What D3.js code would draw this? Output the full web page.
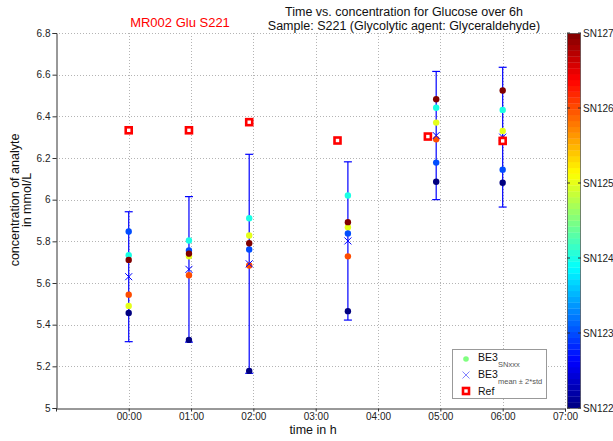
<!DOCTYPE html>
<html>
<head>
<meta charset="utf-8">
<script src="https://cdn.jsdelivr.net/npm/d3@7"></script>
<style>
  html, body { margin: 0; padding: 0; background: #fff; }
  svg { display: block; font-family: "Liberation Sans", Arial, sans-serif; }
</style>
</head>
<body>
<svg id="chart" width="613" height="441"></svg>
<script>
// ---------- data ----------
const sensors = ["SN122", "SN123", "SN124", "SN125", "SN126", "SN127"];
const sampleTimes = [0, 58, 116, 211, 296, 360];          // minutes
const refTimes    = [0, 58, 116, 201, 288, 360];          // minutes
const refValues   = [6.333, 6.333, 6.372, 6.284, 6.303, 6.282];
const valSN122 = [5.456, 5.327, 5.178, 5.465, 6.086, 6.081];
const valSN123 = [5.847, 5.756, 5.761, 5.838, 6.178, 6.144];
const valSN124 = [5.733, 5.804, 5.911, 6.020, 6.441, 6.431];
const valSN125 = [5.490, 5.728, 5.828, 5.868, 6.370, 6.330];
const valSN126 = [5.544, 5.637, 5.684, 5.728, 6.290, 6.290];
const valSN127 = [5.711, 5.741, 5.791, 5.892, 6.482, 6.524];
const sensorValues = [valSN122, valSN123, valSN124, valSN125, valSN126, valSN127];
const xTickValues = [0, 60, 120, 180, 240, 300, 360, 420];
const xTickLabels = ["00:00", "01:00", "02:00", "03:00", "04:00", "05:00", "06:00", "07:00"];
const yTickValues = [5, 5.2, 5.4, 5.6, 5.8, 6, 6.2, 6.4, 6.6, 6.8];
const yTickLabels = ["5", "5.2", "5.4", "5.6", "5.8", "6", "6.2", "6.4", "6.6", "6.8"];
const cbarTickValues = [122, 123, 124, 125, 126, 127];

// ---------- helpers ----------
function jet(t) {
  const c = v => Math.max(0, Math.min(1, v));
  const r = c(1.5 - Math.abs(4 * t - 3));
  const g = c(1.5 - Math.abs(4 * t - 2));
  const b = c(1.5 - Math.abs(4 * t - 1));
  return d3.rgb(r * 255, g * 255, b * 255).toString();
}

const svg = d3.select("#chart");
const L = 56, R = 565, T = 33, B = 408;
const x = d3.scaleLinear().domain([-70, 420]).range([L, R]);
const y = d3.scaleLinear().domain([5, 6.8]).range([B, T]);
const cScale = d3.scaleLinear().domain([122, 127]).range([0, 1]);

// ---------- grid ----------
const grid = svg.append("g");
grid.selectAll("line.gx").data(xTickValues).enter().append("line")
  .attr("x1", d => Math.round(x(d)) + 0.5).attr("x2", d => Math.round(x(d)) + 0.5).attr("y1", T).attr("y2", B)
  .attr("stroke", "#b4b4b4").attr("stroke-width", 1).attr("stroke-dasharray", "1,2");
grid.selectAll("line.gy").data(yTickValues.slice(1)).enter().append("line")
  .attr("x1", L).attr("x2", R).attr("y1", d => Math.round(y(d)) + 0.5).attr("y2", d => Math.round(y(d)) + 0.5)
  .attr("stroke", "#b4b4b4").attr("stroke-width", 1).attr("stroke-dasharray", "1,2");

// ---------- axes ----------
const xAxis = d3.axisBottom(x).tickValues(xTickValues).tickSize(3)
  .tickFormat((d, i) => xTickLabels[i]);
const gx = svg.append("g").attr("transform", `translate(0,${B + 0.5})`).call(xAxis);
const yAxis = d3.axisLeft(y).tickValues(yTickValues).tickSize(4)
  .tickFormat((d, i) => yTickLabels[i]);
const gy = svg.append("g").attr("transform", `translate(${L + 0.5},0)`).call(yAxis);
[gx, gy].forEach(g => {
  g.select(".domain").attr("stroke", "#333");
  g.selectAll(".tick line").attr("stroke", "#333");
  g.selectAll(".tick text").attr("fill", "#222").style("font-size", "10px")
    .style("font-family", "'Liberation Sans', Arial, sans-serif");
});
gx.selectAll(".tick text").attr("y", 11).attr("dy", 0);
gy.selectAll(".tick text").attr("x", -6);

// ---------- error bars (mean ± 2*std) ----------
const groups = sampleTimes.map((t, i) => {
  const vals = sensorValues.map(s => s[i]);
  const m = d3.mean(vals), sd = d3.deviation(vals);
  return { t, m, lo: m - 2 * sd, hi: m + 2 * sd };
});
const eb = svg.append("g").attr("stroke", "#0000ff").attr("stroke-width", 1.2);
groups.forEach(g => {
  const cx = x(g.t);
  eb.append("line").attr("x1", cx).attr("x2", cx).attr("y1", y(g.hi)).attr("y2", y(g.lo));
  eb.append("line").attr("x1", cx - 4).attr("x2", cx + 4).attr("y1", y(g.hi)).attr("y2", y(g.hi));
  eb.append("line").attr("x1", cx - 4).attr("x2", cx + 4).attr("y1", y(g.lo)).attr("y2", y(g.lo));
});

// ---------- sensor points ----------
const pts = svg.append("g");
sensors.forEach((s, si) => {
  const col = jet(cScale(122 + si));
  pts.selectAll(null).data(sensorValues[si]).enter().append("circle")
    .attr("cx", (d, i) => x(sampleTimes[i])).attr("cy", d => y(d))
    .attr("r", 3.2).attr("fill", col);
});

// ---------- mean markers ----------
const mk = svg.append("g").attr("stroke", "#0000ff").attr("stroke-width", 1);
groups.forEach(g => {
  const cx = x(g.t), cy = y(g.m), s = 3.5;
  mk.append("path").attr("d", `M${cx - s},${cy - s}L${cx + s},${cy + s}M${cx - s},${cy + s}L${cx + s},${cy - s}`);
});

// ---------- reference squares ----------
svg.append("g").selectAll("rect").data(refValues).enter().append("rect")
  .attr("x", (d, i) => x(refTimes[i]) - 3).attr("y", d => y(d) - 3)
  .attr("width", 6).attr("height", 6)
  .attr("fill", "#fff").attr("stroke", "#ff0000").attr("stroke-width", 2.6);

// ---------- colorbar ----------
const cb = svg.append("g");
const cbX = 567, cbW = 14;
const nLev = 64;
const cbY = d3.scaleLinear().domain([0, nLev]).range([B, T]);
cb.selectAll("rect").data(d3.range(nLev)).enter().append("rect")
  .attr("x", cbX).attr("width", cbW)
  .attr("y", d => cbY(d + 1)).attr("height", d => cbY(d) - cbY(d + 1) + 0.3)
  .attr("fill", d => jet((d + 0.5) / nLev));
cb.append("rect").attr("x", cbX + 0.5).attr("y", T + 0.5).attr("width", cbW - 1).attr("height", B - T)
  .attr("fill", "none").attr("stroke", "#666").attr("stroke-width", 0.8);
const cbTickY = d3.scaleLinear().domain([122, 127]).range([B, T]);
cbarTickValues.forEach(v => {
  const ty = cbTickY(v);
  cb.append("line").attr("x1", cbX).attr("x2", cbX + 3).attr("y1", ty).attr("y2", ty).attr("stroke", "#333");
  cb.append("line").attr("x1", cbX + cbW - 3).attr("x2", cbX + cbW).attr("y1", ty).attr("y2", ty).attr("stroke", "#333");
  cb.append("text").attr("x", 583).attr("y", ty).attr("dy", "0.35em")
    .attr("font-size", "10px").attr("fill", "#222").text("SN" + v);
});

// ---------- titles & labels ----------
svg.append("text").attr("x", 180).attr("y", 26.5).attr("text-anchor", "middle")
  .attr("font-size", "13px").attr("fill", "#ff0000").text("MR002 Glu S221");
svg.append("text").attr("x", 404).attr("y", 15.5).attr("text-anchor", "middle")
  .attr("font-size", "12.5px").attr("fill", "#111").text("Time vs. concentration for Glucose over 6h");
svg.append("text").attr("x", 404).attr("y", 29.5).attr("text-anchor", "middle")
  .attr("font-size", "12.5px").attr("fill", "#111").text("Sample: S221 (Glycolytic agent: Glyceraldehyde)");
svg.append("text").attr("x", 313).attr("y", 434).attr("text-anchor", "middle")
  .attr("font-size", "12.5px").attr("fill", "#111").text("time in h");
const yl = svg.append("g").attr("transform", "translate(0,200) rotate(-90)");
yl.append("text").attr("x", 0).attr("y", 19).attr("text-anchor", "middle")
  .attr("font-size", "12.5px").attr("fill", "#111").text("concentration of analyte");
yl.append("text").attr("x", 0).attr("y", 31).attr("text-anchor", "middle")
  .attr("font-size", "12.5px").attr("fill", "#111").text("in mmol/L");

// ---------- legend ----------
const lg = svg.append("g");
lg.append("rect").attr("x", 452.5).attr("y", 349.5).attr("width", 94).attr("height", 49)
  .attr("fill", "#fff").attr("stroke", "#999").attr("stroke-width", 1);
lg.append("circle").attr("cx", 466).attr("cy", 359).attr("r", 2.8).attr("fill", jet(0.5));
const t1 = lg.append("text").attr("x", 478).attr("y", 361).attr("font-size", "10.5px").attr("fill", "#111");
t1.append("tspan").text("BE3");
t1.append("tspan").attr("x", 498).attr("y", 367).attr("font-size", "7.5px").attr("fill", "#555").text("SNxxx");
lg.append("path").attr("d", "M462.5,371.5L469.5,378.5M462.5,378.5L469.5,371.5")
  .attr("stroke", "#0000ff").attr("stroke-width", 0.8).attr("opacity", 0.6);
const t2 = lg.append("text").attr("x", 478).attr("y", 378).attr("font-size", "10.5px").attr("fill", "#111");
t2.append("tspan").text("BE3");
t2.append("tspan").attr("x", 498).attr("y", 384).attr("font-size", "7.5px").attr("fill", "#555").text("mean ± 2*std");
lg.append("rect").attr("x", 463).attr("y", 388).attr("width", 6).attr("height", 6)
  .attr("fill", "#fff").attr("stroke", "#ff0000").attr("stroke-width", 2.6);
lg.append("text").attr("x", 478).attr("y", 395).attr("font-size", "10.5px").attr("fill", "#111").text("Ref");
</script>
</body>
</html>
